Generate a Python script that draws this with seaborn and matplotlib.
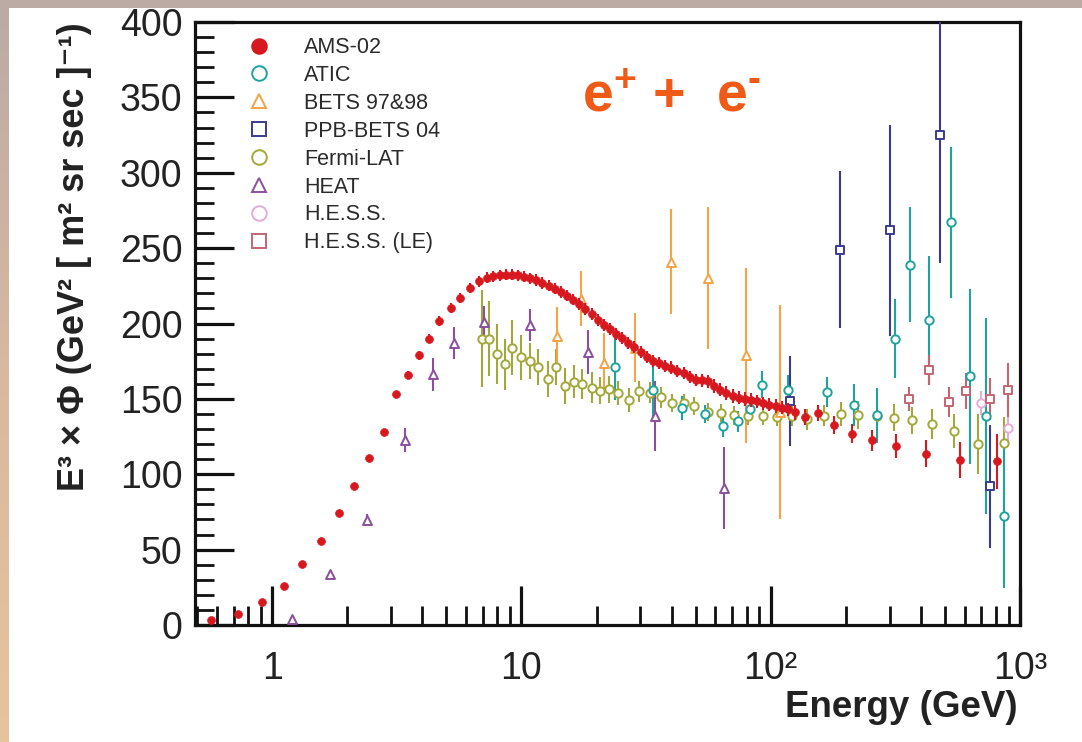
import numpy as np
import matplotlib
matplotlib.use("Agg")
import matplotlib.pyplot as plt
import seaborn as sns
from matplotlib.lines import Line2D
from matplotlib.patches import Rectangle
from matplotlib.colors import LinearSegmentedColormap
from matplotlib.ticker import FixedLocator, FixedFormatter, LogLocator, NullFormatter, MultipleLocator

# ---------------- data ----------------
ams_energy = [0.57, 0.73, 0.91, 1.11, 1.32, 1.57, 1.85, 2.13, 2.45, 2.81, 3.14, 3.51, 3.87, 4.27,
              4.66, 5.20, 5.69, 6.20, 6.77,
              7.29, 7.72, 8.17, 8.65, 9.15, 9.68, 10.25, 10.84, 11.47, 12.14, 12.85, 13.60, 14.39,
              15.23, 16.11, 17.05, 18.05, 19.10, 20.21, 21.39, 22.63, 23.95, 25.35, 26.83, 28.39,
              30.05, 31.80, 33.65, 35.61, 37.69, 39.88, 42.21, 44.67, 47.27, 50.02, 52.94, 56.03,
              59.29, 62.75, 66.41, 70.28, 74.37, 78.71, 83.29, 88.15, 93.28, 98.72, 104.5, 110.6,
              117.0,
              125, 137, 155, 179, 211, 256, 319, 418, 577, 809]
ams_flux = [3.0, 7.5, 15.0, 26.0, 40.5, 56.0, 74.0, 92.0, 111.0, 128.0, 153.0, 166.0, 179.0, 190.0,
            201.5, 210.5, 217.0, 223.5, 228.0,
            230.5, 231.3, 232.0, 232.4, 232.5, 232.0, 231.0, 230.0, 228.8, 227.0, 225.2, 223.2, 221.0,
            218.5, 215.8, 213.0, 209.6, 206.3, 202.6, 199.2, 196.2, 193.2, 190.2, 187.3, 184.4,
            181.3, 177.8, 175.0, 173.5, 172.0, 170.8, 168.6, 167.0, 164.8, 162.8, 162.2, 161.6,
            158.5, 156.2, 154.0, 151.9, 150.8, 150.0, 149.3, 148.3, 147.0, 146.2, 145.2, 144.2,
            143.0,
            141.0, 138.0, 140.5, 132.5, 127.0, 122.5, 119.0, 113.5, 109.5, 108.5]
ams_err = [0.5, 0.6, 0.8, 1.0, 1.2, 1.4, 1.6, 1.8, 2.0, 2.2, 2.5, 2.7, 3.0, 3.0, 3.2, 3.3, 3.4,
           3.5, 3.6,
           3.8, 3.8, 3.8, 3.8, 3.8, 3.8, 3.8, 3.8, 3.8, 3.8, 3.8, 3.8, 3.8,
           3.8, 3.8, 3.8, 3.8, 3.8, 4.0, 4.0, 4.0, 4.0, 4.0, 4.0, 4.0,
           4.0, 4.0, 4.0, 4.0, 4.0, 4.0, 4.0, 4.0, 4.0, 4.0, 4.5, 4.5,
           4.5, 4.5, 4.5, 4.5, 4.5, 4.5, 4.5, 4.5, 4.5, 4.5, 4.5, 4.5,
           4.5,
           5.0, 5.0, 5.5, 6.0, 6.5, 7.0, 8.0, 9.0, 12.0, 18.0]

atic_energy = [23.7, 33.7, 44.0, 54.5, 64.2, 73.7, 82.9, 92.4, 117, 167.5, 216, 266, 316, 362, 432,
               531, 630, 733, 860]
atic_flux = [171, 156, 144, 140, 132, 135, 143, 159.5, 156, 154.7, 146, 139, 190, 239, 202, 267,
             165, 138.7, 72.4]
atic_err = [22, 18, 8, 6, 7, 7, 7, 9, 10, 10, 14, 18, 26, 38, 43, 50, 58, 65, 48]

bets_energy = [13.9, 17.3, 21.5, 28.5, 39.7, 56.2, 79.4, 109]
bets_flux = [192, 216.5, 174, 184, 241, 230, 179, 141]
bets_err = [19, 18, 20, 23, 35, 47, 58, 71]

ppb_energy = [120, 190, 300, 478, 755]
ppb_flux = [148.7, 249, 262, 325, 92]
ppb_err = [30, 52, 70, 85, 41]

fermi_energy = [6.94, 7.4, 7.98, 8.6, 9.2, 9.96, 10.8, 11.7, 12.8, 13.8, 15.0, 16.2, 17.5, 19.1, 20.7,
                22.4, 24.5, 27.0, 29.6, 32.9, 36.3, 40.3, 45.0, 49.4, 56.0, 63.0, 71.3, 80.8, 92.9,
                105.7, 122, 140, 163, 191, 223, 266, 311, 370, 445, 543, 676, 859]
fermi_flux = [190, 190, 180, 173, 184, 177.5, 175, 171, 163, 171, 158.5, 161.5, 160, 157.5, 155.5,
              156.5, 154, 149, 155, 154, 151, 147.5, 147.5, 145, 141.5, 140.5, 139, 138.7, 138.5,
              138.2, 138.7, 136.5, 138.7, 139.8, 139.3, 138.7, 137.5, 135.8, 133.5, 128.7, 120.2, 121]
fermi_err = [32, 25, 20, 17, 18, 15, 12, 12, 12, 12, 12, 11, 10, 10, 9, 9, 8, 8, 7, 7, 7, 6, 6, 6, 6,
             6, 6, 6, 6, 6, 7, 7, 7, 8, 9, 8, 9, 9, 10, 11, 20, 17]

heat_energy = [1.2, 1.7, 2.41, 3.41, 4.42, 5.37, 7.06, 10.8, 18.5, 34.3, 65.2]
heat_flux = [4.2, 33.6, 69.8, 123, 166.4, 186.9, 201, 199, 181, 138.7, 91]
heat_err = [1, 2, 4, 8, 11, 10.5, 10.5, 10.5, 14.5, 23, 27]

hess_energy = [697, 899]
hess_flux = [147.5, 131]
hess_err = [8, 10]

hessle_energy = [360, 432, 520, 610, 755, 894]
hessle_flux = [150.2, 169.3, 148, 155, 150, 156]
hessle_err = [8, 10, 10, 12, 14, 18]

legend_labels = ["AMS-02", "ATIC", "BETS 97&98", "PPB-BETS 04", "Fermi-LAT", "HEAT",
                 "H.E.S.S.", "H.E.S.S. (LE)"]
x_tick_values = [1, 10, 100, 1000]
x_tick_labels = ["1", "10", "10²", "10³"]

# ---------------- style ----------------
sns.set_theme(style="ticks")
plt.rcParams["font.family"] = ["Liberation Sans", "DejaVu Sans"]
plt.rcParams["mathtext.fontset"] = "custom"
plt.rcParams["mathtext.rm"] = "Liberation Sans:bold"
plt.rcParams["mathtext.bf"] = "Liberation Sans:bold"
plt.rcParams["mathtext.it"] = "Liberation Sans:bold"

fig = plt.figure(figsize=(10.82, 7.42), dpi=100)

# background frame (slide-like border)
bg = fig.add_axes([0, 0, 1, 1], zorder=-10)
cmap = LinearSegmentedColormap.from_list("bgc", ["#bcaaa6", "#d8b9a0", "#e6c49c"])
bg.imshow(np.linspace(0, 1, 256).reshape(-1, 1), aspect="auto", cmap=cmap,
          extent=[0, 1, 0, 1], origin="upper")
bg.add_patch(Rectangle((9 / 1082, 0), 1, 1 - 8 / 742, transform=bg.transAxes,
                       facecolor="white", edgecolor="none"))
bg.set_xlim(0, 1)
bg.set_ylim(0, 1)
bg.axis("off")

ax = fig.add_axes([195 / 1082, 1 - 625 / 742, (1020 - 195) / 1082, (625 - 22) / 742])
ax.set_facecolor("white")

series = [
    (ams_energy, ams_flux, ams_err, "#d7191f", "o", True, 32),
    (atic_energy, atic_flux, atic_err, "#1fa39e", "o", False, 36),
    (bets_energy, bets_flux, bets_err, "#f4a347", "^", False, 42),
    (ppb_energy, ppb_flux, ppb_err, "#3b3b8f", "s", False, 36),
    (fermi_energy, fermi_flux, fermi_err, "#a2a83a", "o", False, 36),
    (heat_energy, heat_flux, heat_err, "#8b4f9f", "^", False, 42),
    (hess_energy, hess_flux, hess_err, "#e6acd9", "o", False, 36),
    (hessle_energy, hessle_flux, hessle_err, "#c26672", "s", False, 36),
]
order = [4, 1, 2, 3, 5, 6, 7, 0]
for i in order:
    e, f, err, col, mk, filled, size = series[i]
    z = 5 if filled else 3
    ax.errorbar(e, f, yerr=err, fmt="none", ecolor=col, elinewidth=1.5, capsize=0, zorder=z)
    if filled:
        sns.scatterplot(x=e, y=f, ax=ax, marker=mk, s=size, color=col, edgecolor=col,
                        linewidth=0.5, legend=False, zorder=z + 0.5)
    else:
        sns.scatterplot(x=e, y=f, ax=ax, marker=mk, s=size, color=col, facecolor="white",
                        edgecolor=col, linewidth=1.4, legend=False, zorder=z + 0.5)

ax.set_xscale("log")
ax.set_xlim(0.49, 1000)
ax.set_ylim(0, 400)
ax.xaxis.set_major_locator(FixedLocator(x_tick_values))
ax.xaxis.set_major_formatter(FixedFormatter(x_tick_labels))
ax.xaxis.set_minor_locator(LogLocator(base=10, subs=np.arange(2, 10)))
ax.xaxis.set_minor_formatter(NullFormatter())
ax.yaxis.set_major_locator(MultipleLocator(50))
ax.yaxis.set_minor_locator(MultipleLocator(10))

for sp in ax.spines.values():
    sp.set_linewidth(2.3)
    sp.set_color("#111111")
ax.tick_params(which="major", direction="in", length=28, width=2.3, colors="#111111",
               labelsize=27, top=False, right=False)
ax.tick_params(which="minor", direction="in", length=14, width=2.0, colors="#111111",
               top=False, right=False)
ax.tick_params(axis="x", which="major", pad=19)
ax.tick_params(axis="y", which="major", pad=9)
for lab in ax.get_xticklabels() + ax.get_yticklabels():
    lab.set_color("#222222")

ax.set_ylabel("E³ × Φ (GeV² [ m² sr sec ]⁻¹)", fontsize=26, fontweight="bold", color="#222222")
ax.yaxis.set_label_coords(-0.1248, 0.61)
ax.set_xlabel("Energy (GeV)", fontsize=26.5, fontweight="bold", loc="right", color="#222222")
ax.xaxis.set_label_coords(0.9976, -0.108)

# legend
handles = []
for (e, f, err, col, mk, filled, size), lab in zip(series, legend_labels):
    handles.append(Line2D([], [], linestyle="none", marker=mk, markersize=10.5,
                          markerfacecolor=col if filled else "none", markeredgecolor=col,
                          markeredgewidth=1.4, label=lab))
leg = ax.legend(handles=handles, loc="upper left", bbox_to_anchor=(0.0642, 0.975), frameon=False,
                fontsize=15.5, handlelength=1.0, handletextpad=1.6, labelspacing=0.32,
                borderaxespad=0, borderpad=0)
for t in leg.get_texts():
    t.set_color("#2a2a2a")

fig.text(582 / 1082, 1 - 111 / 742, r"e$^{+}$ +  e$^{\text{-}}$", color="#ef5a17",
         fontsize=40, fontweight="bold", va="baseline", ha="left")

fig.savefig("out.png", dpi=100)
